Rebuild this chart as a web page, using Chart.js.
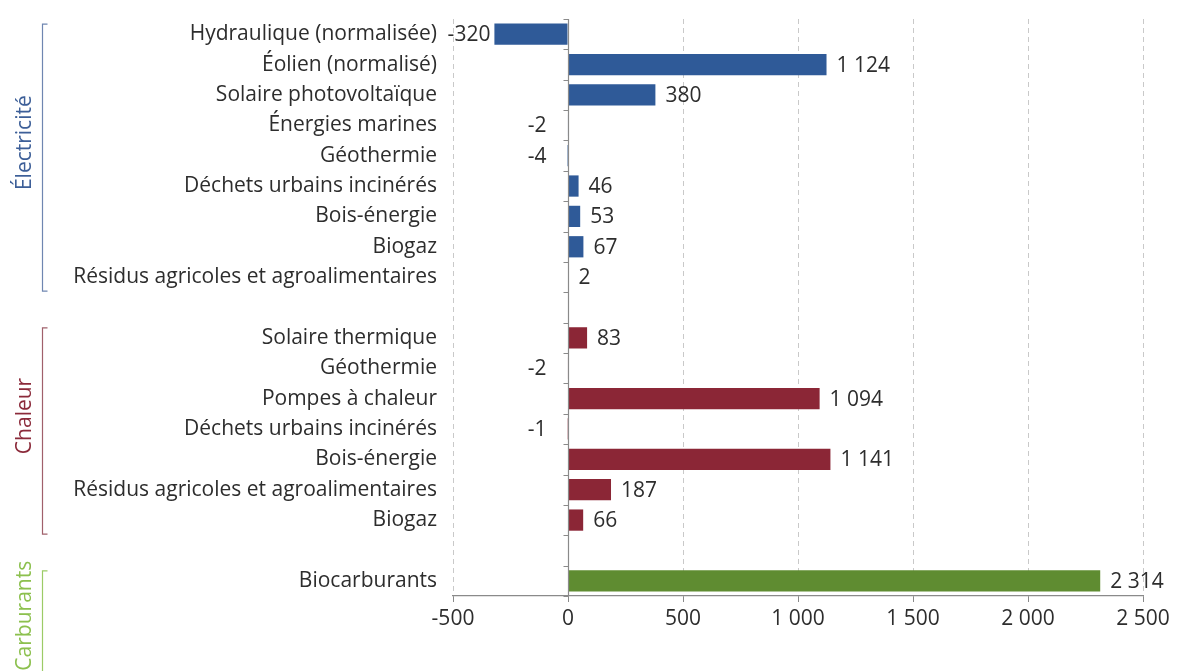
<!DOCTYPE html>
<html>
<head>
<meta charset="utf-8">
<script src="https://cdn.jsdelivr.net/npm/chart.js@4/dist/chart.umd.min.js"></script>
<style>
html,body{margin:0;padding:0;background:#fff;}
canvas{display:block;}
</style>
</head>
<body>
<canvas id="c" width="1184" height="671"></canvas>
<script>
// ---- Data ----
const elecLabels = ['Hydraulique (normalisée)', 'Éolien (normalisé)', 'Solaire photovoltaïque', 'Énergies marines', 'Géothermie', 'Déchets urbains incinérés', 'Bois-énergie', 'Biogaz', 'Résidus agricoles et agroalimentaires'];
const elecValues = [-320, 1124, 380, -2, -4, 46, 53, 67, 2];
const heatLabels = ['Solaire thermique', 'Géothermie', 'Pompes à chaleur', 'Déchets urbains incinérés', 'Bois-énergie', 'Résidus agricoles et agroalimentaires', 'Biogaz'];
const heatValues = [83, -2, 1094, -1, 1141, 187, 66];
const fuelLabels = ['Biocarburants'];
const fuelValues = [2314];
const groupNames = ['Électricité', 'Chaleur', 'Carburants'];
const xTicks = [-500, 0, 500, 1000, 1500, 2000, 2500];

// ---- Styles ----
const FONT = '"Open Sans", "Noto Sans", sans-serif';
const FS = 21;
const TXT = '#2d2d2d';
const barColors = ['#2f5a98', '#8b2636', '#5f8c31'];
const groupTextColors = ['#3d5f98', '#8b2a3a', '#8cc04e'];
const groupLineColors = ['#6f86b1', '#a0606b', '#9ccb66'];

// ---- Build combined table (gap rows between groups) ----
const groups = [
  {labels: elecLabels, values: elecValues},
  {labels: heatLabels, values: heatValues},
  {labels: fuelLabels, values: fuelValues}
];
const labels = [], values = [], colors = [], spans = [];
groups.forEach((g, gi) => {
  if (gi > 0) { labels.push(''); values.push(null); colors.push('rgba(0,0,0,0)'); }
  const start = labels.length;
  g.labels.forEach((l, i) => { labels.push(l); values.push(g.values[i]); colors.push(barColors[gi]); });
  spans.push({start, end: labels.length - 1});
});

function fmt(v) {
  const s = String(Math.abs(v)).replace(/\B(?=(\d{3})+(?!\d))/g, ' ');
  return (v < 0 ? '-' : '') + s;
}

const overlay = {
  id: 'overlay',
  afterDatasetsDraw(chart) {
    const ctx = chart.ctx;
    const x = chart.scales.x, y = chart.scales.y;
    const area = chart.chartArea;
    const zx = Math.round(x.getPixelForValue(0)) + 0.5;
    ctx.save();
    // zero axis line with category ticks
    ctx.strokeStyle = '#8a8a8a';
    ctx.lineWidth = 1.2;
    ctx.beginPath();
    ctx.moveTo(zx, area.top);
    ctx.lineTo(zx, area.bottom);
    const n = labels.length;
    for (let i = 0; i <= n; i++) {
      const py = Math.round(y.getPixelForValue(i - 0.5)) + 0.5;
      ctx.moveTo(zx - 5, py);
      ctx.lineTo(zx, py);
    }
    ctx.stroke();
    // value labels
    ctx.font = FS + 'px ' + FONT;
    ctx.fillStyle = TXT;
    ctx.textBaseline = 'middle';
    const meta = chart.getDatasetMeta(0);
    meta.data.forEach((bar, i) => {
      const v = values[i];
      if (v === null) return;
      if (v >= 0) {
        ctx.textAlign = 'left';
        ctx.fillText(fmt(v), bar.x + 10, bar.y + 1);
      } else {
        ctx.textAlign = 'right';
        ctx.fillText(fmt(v), Math.min(bar.x, zx - 18) - 4, bar.y + 1);
      }
    });
    // group brackets and titles
    spans.forEach((s, gi) => {
      const top = y.getPixelForValue(s.start) - 10;
      const bottom = gi === spans.length - 1 ? chart.height + 5 : y.getPixelForValue(s.end) + 14;
      const bx = 42.5;
      ctx.strokeStyle = groupLineColors[gi];
      ctx.lineWidth = 1.2;
      ctx.beginPath();
      ctx.moveTo(bx + 5, top);
      ctx.lineTo(bx, top);
      ctx.lineTo(bx, bottom);
      ctx.lineTo(bx + 5, bottom);
      ctx.stroke();
      ctx.save();
      ctx.font = FS + 'px ' + FONT;
      ctx.fillStyle = groupTextColors[gi];
      let cy;
      if (gi === spans.length - 1) {
        const w = ctx.measureText(groupNames[gi]).width;
        cy = top - 10 + w / 2;
      } else {
        cy = (top + bottom) / 2 - 15;
      }
      ctx.translate(25, cy);
      ctx.rotate(-Math.PI / 2);
      ctx.textAlign = 'center';
      ctx.textBaseline = 'middle';
      ctx.fillText(groupNames[gi], 0, 0);
      ctx.restore();
    });
    ctx.restore();
  }
};

new Chart(document.getElementById('c'), {
  type: 'bar',
  data: {
    labels: labels,
    datasets: [{
      data: values,
      backgroundColor: colors,
      borderWidth: 0,
      barPercentage: 0.7,
      categoryPercentage: 1.0
    }]
  },
  options: {
    indexAxis: 'y',
    responsive: false,
    animation: false,
    layout: {padding: {left: 0, right: 41, top: 19, bottom: 0}},
    plugins: {legend: {display: false}, tooltip: {enabled: false}},
    scales: {
      x: {
        min: xTicks[0],
        max: xTicks[xTicks.length - 1],
        afterBuildTicks(scale) { scale.ticks = xTicks.map(v => ({value: v})); },
        afterFit(scale) { scale.height = 75; scale.paddingLeft = 0; scale.paddingRight = 0; },
        grid: {
          color: (c) => c.tick && c.tick.value === 0 ? 'rgba(0,0,0,0)' : '#c9c9c9',
          lineWidth: 1,
          drawTicks: true,
          tickLength: 6,
          tickColor: '#8a8a8a',
          tickBorderDash: []
        },
        border: {display: true, color: '#8a8a8a', width: 1.2, dash: [5, 4]},
        ticks: {
          font: {family: FONT, size: FS},
          color: TXT,
          padding: 4,
          maxRotation: 0,
          callback: (v) => fmt(v)
        }
      },
      y: {
        grid: {display: false, drawTicks: false},
        border: {display: false},
        afterFit(scale) { scale.width = 453; scale.paddingTop = 0; scale.paddingBottom = 0; },
        ticks: {
          font: {family: FONT, size: FS},
          color: TXT,
          padding: 16,
          autoSkip: false
        }
      }
    }
  },
  plugins: [overlay]
});
</script>
</body>
</html>
